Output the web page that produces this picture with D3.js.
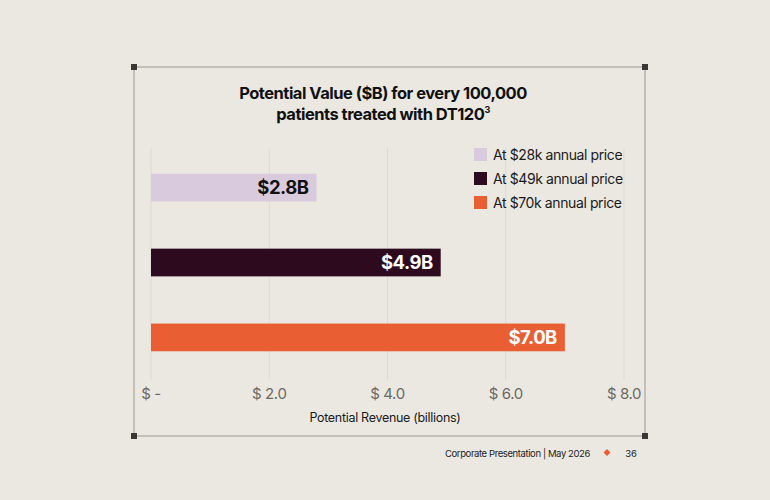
<!DOCTYPE html>
<html><head><meta charset="utf-8">
<script src="https://cdn.jsdelivr.net/npm/d3@7"></script>
<style>body{margin:0;background:#ebe8e2}svg{display:block;font-family:Inter,"Noto Sans",sans-serif}</style>
</head><body><svg id="c" width="770" height="500"></svg>
<script>
const categories = ["At $28k annual price","At $49k annual price","At $70k annual price"];
const values = [2.8, 4.9, 7.0];
const labels = ["$2.8B","$4.9B","$7.0B"];
const colors = ["#d9cbdd","#2e0a1f","#e95f33"];
const ticks = [0,2,4,6,8];
const tickLabels = ["$ -","$ 2.0","$ 4.0","$ 6.0","$ 8.0"];

const svg = d3.select("#c");
svg.append("rect").attr("width",770).attr("height",500).attr("fill","#ebe8e2");
svg.append("rect").attr("x",134).attr("y",67).attr("width",511).attr("height",369)
  .attr("fill","none").attr("stroke","#a8a49e").attr("stroke-width",1.2);
[[134,67],[645,67],[134,436],[645,436]].forEach(([x,y])=>svg.append("rect")
  .attr("x",x-3).attr("y",y-3).attr("width",6).attr("height",6).attr("fill","#3a3835"));

const x = d3.scaleLinear().domain([0,8]).range([151,624]);
const y = d3.scaleBand().domain(categories).range([149,376]).paddingInner(0.63).paddingOuter(0.33);

svg.selectAll(".g").data(ticks).join("line").attr("x1",d=>x(d)).attr("x2",d=>x(d))
  .attr("y1",148).attr("y2",380).attr("stroke","#dcd9d3").attr("stroke-width",1);

svg.selectAll(".b").data(categories).join("rect")
  .attr("x",x(0)).attr("y",d=>y(d)).attr("height",y.bandwidth())
  .attr("width",(d,i)=>x(values[i])-x(0)).attr("fill",(d,i)=>colors[i]);
svg.selectAll(".bl").data(categories).join("text")
  .attr("x",(d,i)=>x(values[i])-8).attr("y",d=>y(d)+y.bandwidth()/2+6.5)
  .attr("text-anchor","end").attr("font-size",18.5).attr("font-weight",700).attr("letter-spacing",-0.5)
  .attr("fill",(d,i)=>i==0?"#111":"#fff").text((d,i)=>labels[i]);

svg.selectAll(".t").data(ticks).join("text").attr("x",d=>x(d)).attr("y",399)
  .attr("text-anchor","middle").attr("font-size",15).attr("letter-spacing",-0.4).attr("fill","#6b6864")
  .text((d,i)=>tickLabels[i]);
svg.append("text").attr("x",385).attr("y",422).attr("text-anchor","middle")
  .attr("font-size",12.5).attr("letter-spacing",-0.3).attr("fill","#1a1a1a").text("Potential Revenue (billions)");

const t = svg.append("text").attr("text-anchor","middle").attr("font-size",16.5)
  .attr("font-weight",700).attr("letter-spacing",-0.5).attr("fill","#111");
t.append("tspan").attr("x",383).attr("y",99).text("Potential Value ($B) for every 100,000");
t.append("tspan").attr("x",383).attr("y",120).text("patients treated with DT120");
t.append("tspan").attr("font-size",9).attr("dy",-7).text("3");

const lg = svg.selectAll(".lg").data(categories).join("g")
  .attr("transform",(d,i)=>`translate(474,${148+i*24})`);
lg.append("rect").attr("width",13).attr("height",13).attr("fill",(d,i)=>colors[i]);
lg.append("text").attr("x",19).attr("y",11.5).attr("font-size",14).attr("letter-spacing",-0.4).attr("fill","#1a1a1a").text(d=>d);

svg.append("text").attr("x",590).attr("y",457).attr("text-anchor","end").attr("font-size",9.5)
  .attr("letter-spacing",-0.4).attr("fill","#222").text("Corporate Presentation | May 2026");
svg.append("path").attr("d","M607,449 l3.5,3.5 l-3.5,3.5 l-3.5,-3.5z").attr("fill","#e95f33");
svg.append("text").attr("x",637).attr("y",457).attr("text-anchor","end").attr("font-size",9.5)
  .attr("fill","#222").text("36");
</script></body></html>
